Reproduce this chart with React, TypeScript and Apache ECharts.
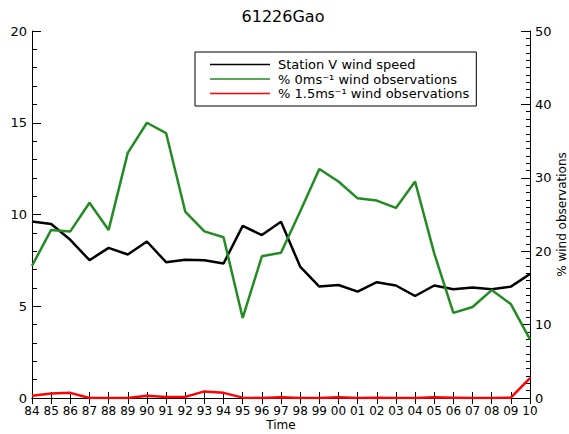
import React, { useEffect, useRef } from "react";
import * as echarts from "echarts";

const years = ["84","85","86","87","88","89","90","91","92","93","94","95","96","97","98","99","00","01","02","03","04","05","06","07","08","09","10"];
const windSpeed = [9.62,9.48,8.62,7.51,8.18,7.82,8.53,7.40,7.54,7.51,7.33,9.38,8.88,9.6,7.16,6.07,6.16,5.80,6.31,6.13,5.56,6.13,5.93,6.02,5.93,6.07,6.76];
const calmPct = [18.0,22.9,22.7,26.6,22.9,33.4,37.5,36.1,25.4,22.7,21.9,10.9,19.3,19.8,25.4,31.2,29.5,27.2,26.9,25.9,29.5,19.7,11.6,12.4,14.7,12.8,8.0];
const lowPct = [0.3,0.6,0.7,0,0,0,0.3,0.15,0.15,0.9,0.7,0.05,0,0.1,0,0,0.1,0,0.05,0,0,0.1,0.05,0,0,0.05,2.7];
const seriesNames = ["Station V wind speed", "% 0ms\u207B\u00B9 wind observations", "% 1.5ms\u207B\u00B9 wind observations"];
const seriesColors = ["#000000", "#228B22", "#ff0000"];
const titleText = "61226Gao";

const FONT = "DejaVu Sans";

export default function App() {
  const ref = useRef<HTMLDivElement>(null);
  useEffect(() => {
    if (!ref.current) return;
    const chart = echarts.init(ref.current, null, { renderer: "svg" });
    const axisLine = { show: true, lineStyle: { color: "#000", width: 1 } };
    chart.setOption({
      animation: false,
      backgroundColor: "#fff",
      textStyle: { fontFamily: FONT },
      graphic: [
        {
          type: "text",
          x: 283,
          y: 16,
          style: { text: titleText, fill: "#000", font: `16px "${FONT}"`, align: "center", verticalAlign: "middle" },
        },
      ],
      grid: { left: 32, right: 39, top: 31, bottom: 36, containLabel: false, outerBoundsMode: "none" },
      legend: {
        orient: "vertical",
        left: 195,
        top: 52,
        itemWidth: 60,
        itemHeight: 1.5,
        itemGap: 1.5,
        padding: [6, 7, 6, 15],
        borderColor: "#000",
        borderWidth: 1,
        backgroundColor: "#fff",
        textStyle: { fontFamily: FONT, fontSize: 13, color: "#000", padding: [0, 0, 0, 3] },
        data: seriesNames.map((n, i) => ({
          name: n,
          icon: "rect",
          itemStyle: { color: seriesColors[i], borderWidth: 0 },
          lineStyle: { color: seriesColors[i], width: 0 },
        })),
        itemStyle: { borderWidth: 0 },
      },
      xAxis: [
        {
          type: "category",
          data: years,
          boundaryGap: false,
          position: "bottom",
          name: "Time",
          nameLocation: "middle",
          nameGap: 21,
          nameMoveOverlap: false,
          nameTextStyle: { fontFamily: FONT, fontSize: 12, color: "#000" },
          axisLine,
          axisTick: { show: true, inside: true, length: 6, interval: 0, lineStyle: { color: "#000" } },
          axisLabel: { show: true, interval: 0, fontFamily: FONT, fontSize: 12, color: "#000", margin: 7 },
          splitLine: { show: false },
        },
        {
          type: "category",
          data: years,
          boundaryGap: false,
          position: "top",
          axisLine,
          axisTick: { show: true, inside: true, length: 6, interval: 0, lineStyle: { color: "#000" } },
          axisLabel: { show: false },
          splitLine: { show: false },
        },
      ],
      yAxis: [
        {
          type: "value",
          min: 0,
          max: 20,
          interval: 5,
          position: "left",
          axisLine,
          axisTick: { show: true, inside: true, length: 9, lineStyle: { color: "#000" } },
          minorTick: { show: true, splitNumber: 5, length: 5, lineStyle: { color: "#000" } },
          axisLabel: { fontFamily: FONT, fontSize: 13, color: "#000", margin: 5 },
          splitLine: { show: false },
        },
        {
          type: "value",
          min: 0,
          max: 50,
          interval: 10,
          position: "right",
          name: "% wind observations",
          nameLocation: "middle",
          nameRotate: 90,
          nameGap: 26,
          nameMoveOverlap: false,
          nameTextStyle: { fontFamily: FONT, fontSize: 12, color: "#000" },
          axisLine,
          axisTick: { show: true, inside: true, length: 9, lineStyle: { color: "#000" } },
          minorTick: { show: true, splitNumber: 10, length: 4, lineStyle: { color: "#000" } },
          axisLabel: { fontFamily: FONT, fontSize: 13, color: "#000", margin: 5 },
          splitLine: { show: false },
        },
      ],
      series: [
        {
          name: seriesNames[0],
          type: "line",
          data: windSpeed,
          xAxisIndex: 0,
          yAxisIndex: 0,
          symbol: "none",
          lineStyle: { color: seriesColors[0], width: 2.5 },
          itemStyle: { color: seriesColors[0] },
        },
        {
          name: seriesNames[1],
          type: "line",
          data: calmPct,
          xAxisIndex: 0,
          yAxisIndex: 1,
          symbol: "none",
          lineStyle: { color: seriesColors[1], width: 2.5 },
          itemStyle: { color: seriesColors[1] },
        },
        {
          name: seriesNames[2],
          type: "line",
          data: lowPct,
          xAxisIndex: 0,
          yAxisIndex: 1,
          symbol: "none",
          lineStyle: { color: seriesColors[2], width: 2.5 },
          itemStyle: { color: seriesColors[2] },
        },
      ],
    });
    return () => chart.dispose();
  }, []);
  return <div ref={ref} style={{ position: "absolute", left: 0, top: 0, width: 569, height: 434 }} />;
}
